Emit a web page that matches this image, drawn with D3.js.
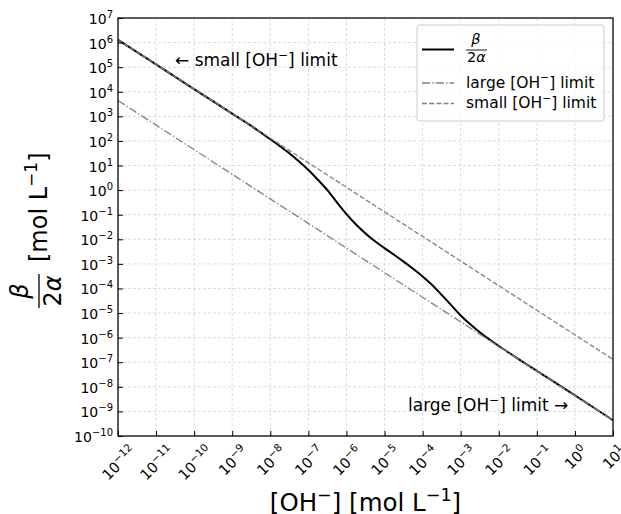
<!DOCTYPE html>
<html>
<head>
<meta charset="utf-8">
<script src="https://cdn.jsdelivr.net/npm/d3@7"></script>
<style>
  body { margin: 0; background: #fff; }
  svg { display: block; }
  text { font-family: "DejaVu Sans", sans-serif; fill: #000; }
</style>
</head>
<body>
<svg id="chart" width="621" height="514"></svg>
<script>
// Hydroxide concentration [OH-] in mol/L
const ohConc = [
  1e-12, 1e-11, 1e-10, 1e-9, 3.16e-9, 1e-8, 1.78e-8, 3.16e-8, 5.62e-8,
  1e-7, 1.78e-7, 3.16e-7, 5.62e-7, 1e-6, 1.78e-6, 3.16e-6, 5.62e-6,
  1e-5, 1.78e-5, 3.16e-5, 5.62e-5, 1e-4, 1.78e-4, 3.16e-4, 5.62e-4,
  1e-3, 1.78e-3, 3.16e-3, 5.62e-3, 1e-2, 3.16e-2, 1e-1, 1, 10
];
// beta / (2 alpha) in mol/L at each concentration
const ratio = [
  1.29e6, 1.29e5, 1.29e4, 1.29e3, 407, 117, 61.7, 31.6, 14.8,
  6.61, 2.63, 1.00, 0.316, 0.105, 0.0398, 0.0174, 8.32e-3,
  4.37e-3, 2.34e-3, 1.23e-3, 6.31e-4, 3.09e-4, 1.38e-4, 5.50e-5, 2.09e-5,
  7.94e-6, 3.47e-6, 1.66e-6, 8.51e-7, 4.57e-7, 1.41e-7, 4.47e-8, 4.47e-9, 4.37e-10
];
// Asymptotic limits, given at both ends of the concentration range
const limitConc = [1e-12, 1e1];
const smallOhLimit = [1.3e6, 1.3e-7];
const largeOhLimit = [4.4e3, 4.4e-10];

// Decade exponents used for ticks and tick labels
const xTickExponents = [-12, -11, -10, -9, -8, -7, -6, -5, -4, -3, -2, -1, 0, 1];
const yTickExponents = [-10, -9, -8, -7, -6, -5, -4, -3, -2, -1, 0, 1, 2, 3, 4, 5, 6, 7];

const plot = { left: 118, right: 613, top: 18, bottom: 436 };
const GREY = "#808080";
const DASH = "5,2.2";
const DASHDOT = "8,2.2,1.4,2.2";

const svg = d3.select("#chart");

const x = d3.scaleLog().domain([1e-12, 1e1]).range([plot.left, plot.right]);
const y = d3.scaleLog().domain([1e-10, 1e7]).range([plot.bottom, plot.top]);

const expText = e => (e < 0 ? "\u2212" + Math.abs(e) : String(e));

// Grid
const grid = svg.append("g")
  .attr("stroke", "#d3d3d3").attr("stroke-width", 0.8).attr("stroke-dasharray", "3,2");
grid.selectAll(".gx").data(xTickExponents).join("line")
  .attr("x1", e => x(Math.pow(10, e))).attr("x2", e => x(Math.pow(10, e)))
  .attr("y1", plot.top).attr("y2", plot.bottom);
grid.selectAll(".gy").data(yTickExponents).join("line")
  .attr("y1", e => y(Math.pow(10, e))).attr("y2", e => y(Math.pow(10, e)))
  .attr("x1", plot.left).attr("x2", plot.right);

// Data lines
const line = d3.line().x(d => x(d[0])).y(d => y(d[1]));
const curveLine = d3.line().x(d => x(d[0])).y(d => y(d[1])).curve(d3.curveCatmullRom.alpha(0.5));

const plotG = svg.append("g");
plotG.append("path")
  .datum(ohConc.map((c, i) => [c, ratio[i]]))
  .attr("d", curveLine)
  .attr("fill", "none").attr("stroke", "#000").attr("stroke-width", 2);
plotG.append("path")
  .datum(limitConc.map((c, i) => [c, largeOhLimit[i]]))
  .attr("d", line)
  .attr("fill", "none").attr("stroke", GREY).attr("stroke-width", 1.3)
  .attr("stroke-dasharray", DASHDOT);
plotG.append("path")
  .datum(limitConc.map((c, i) => [c, smallOhLimit[i]]))
  .attr("d", line)
  .attr("fill", "none").attr("stroke", GREY).attr("stroke-width", 1.3)
  .attr("stroke-dasharray", DASH);

// Axes with inward ticks
const xAxis = d3.axisBottom(x)
  .tickValues(xTickExponents.map(e => Math.pow(10, e)))
  .tickSizeInner(-5).tickSizeOuter(0).tickFormat("");
const yAxis = d3.axisLeft(y)
  .tickValues(yTickExponents.map(e => Math.pow(10, e)))
  .tickSizeInner(-5).tickSizeOuter(0).tickFormat("");
const gx = svg.append("g").attr("transform", `translate(0,${plot.bottom})`).call(xAxis);
const gy = svg.append("g").attr("transform", `translate(${plot.left},0)`).call(yAxis);
[gx, gy].forEach(g => {
  g.select(".domain").remove();
  g.selectAll(".tick line").attr("stroke", "#000").attr("stroke-width", 1);
});

// Frame
svg.append("rect")
  .attr("x", plot.left).attr("y", plot.top)
  .attr("width", plot.right - plot.left).attr("height", plot.bottom - plot.top)
  .attr("fill", "none").attr("stroke", "#000").attr("stroke-width", 1.25);

// Y tick labels: 10^e
yTickExponents.forEach(e => {
  const t = svg.append("text")
    .attr("x", plot.left - 5).attr("y", y(Math.pow(10, e)) + 6)
    .attr("text-anchor", "end").attr("font-size", 14);
  t.append("tspan").text("10");
  t.append("tspan").attr("font-size", 10).attr("dy", -6).text(expText(e));
});

// X tick labels: 10^e rotated 45 degrees, centred under each tick
xTickExponents.forEach(e => {
  const g = svg.append("g").attr("transform", `translate(${x(Math.pow(10, e))},${plot.bottom + 5})`);
  const t = g.append("text").attr("font-size", 14.5).attr("text-anchor", "end")
    .attr("transform", "rotate(-45)");
  t.append("tspan").text("10");
  t.append("tspan").attr("font-size", 10.5).attr("dy", -6).text(expText(e));
  const bb = g.node().getBBox();
  t.attr("transform", `translate(${-(bb.x + bb.width / 2)},${-bb.y}) rotate(-45)`);
});

// Axis titles
const xl = svg.append("text")
  .attr("x", (plot.left + plot.right) / 2).attr("y", 511)
  .attr("text-anchor", "middle").attr("font-size", 24.5);
xl.append("tspan").text("[OH");
xl.append("tspan").attr("font-size", 17.5).attr("dy", -10).text("\u2212");
xl.append("tspan").attr("dy", 10).text("] [mol L");
xl.append("tspan").attr("font-size", 17.5).attr("dy", -10).text("\u22121");
xl.append("tspan").attr("dy", 10).text("]");

const yl = svg.append("g").attr("transform", "translate(45,228) rotate(-90)");
// fraction beta over 2 alpha
yl.append("text").attr("x", -63).attr("y", -17).attr("text-anchor", "middle")
  .attr("font-size", 24).attr("font-style", "italic").text("\u03b2");
yl.append("line").attr("x1", -80).attr("x2", -46).attr("y1", -6).attr("y2", -6)
  .attr("stroke", "#000").attr("stroke-width", 1.3);
const den = yl.append("text").attr("x", -63).attr("y", 16).attr("text-anchor", "middle")
  .attr("font-size", 24);
den.append("tspan").text("2");
den.append("tspan").attr("font-style", "italic").text("\u03b1");
const unit = yl.append("text").attr("x", -34).attr("y", 2).attr("font-size", 24);
unit.append("tspan").text("[mol L");
unit.append("tspan").attr("font-size", 17).attr("dy", -10).text("\u22121");
unit.append("tspan").attr("dy", 10).text("]");

// Annotations
function ohText(parent, xPos, yPos, size, before, after) {
  const t = parent.append("text").attr("x", xPos).attr("y", yPos).attr("font-size", size);
  t.append("tspan").text(before + "[OH");
  t.append("tspan").attr("font-size", size * 0.7).attr("dy", -size * 0.4).text("\u2212");
  t.append("tspan").attr("dy", size * 0.4).text("] limit" + after);
  return t;
}
ohText(svg, 175, 66, 17, "\u2190 small ", "");
ohText(svg, 408, 411, 17, "large ", " \u2192");

// Legend
const lg = svg.append("g");
lg.append("rect").attr("x", 417).attr("y", 25).attr("width", 187).attr("height", 96)
  .attr("rx", 3).attr("fill", "#fff").attr("fill-opacity", 0.8)
  .attr("stroke", "#cccccc").attr("stroke-width", 1);
lg.append("line").attr("x1", 422).attr("x2", 454).attr("y1", 49.5).attr("y2", 49.5)
  .attr("stroke", "#000").attr("stroke-width", 2);
lg.append("text").attr("x", 476).attr("y", 44).attr("text-anchor", "middle")
  .attr("font-size", 14.5).attr("font-style", "italic").text("\u03b2");
lg.append("line").attr("x1", 466).attr("x2", 487).attr("y1", 50).attr("y2", 50)
  .attr("stroke", "#000").attr("stroke-width", 0.9);
const lden = lg.append("text").attr("x", 476.5).attr("y", 61.5).attr("text-anchor", "middle")
  .attr("font-size", 14.5);
lden.append("tspan").text("2");
lden.append("tspan").attr("font-style", "italic").text("\u03b1");

lg.append("line").attr("x1", 422).attr("x2", 454).attr("y1", 83).attr("y2", 83)
  .attr("stroke", GREY).attr("stroke-width", 1.3).attr("stroke-dasharray", DASHDOT);
ohText(lg, 466, 87.5, 15.5, "large ", "");
lg.append("line").attr("x1", 422).attr("x2", 454).attr("y1", 103.5).attr("y2", 103.5)
  .attr("stroke", GREY).attr("stroke-width", 1.3).attr("stroke-dasharray", DASH);
ohText(lg, 466, 108, 15.5, "small ", "");
</script>
</body>
</html>
